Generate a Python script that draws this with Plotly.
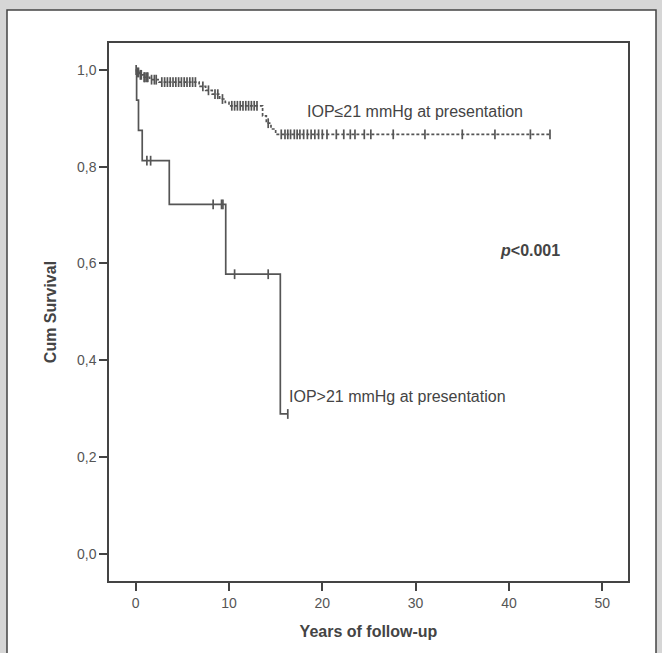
import plotly.graph_objects as go

# ---- data ----
# IOP>21 mmHg group: event times and survival after each event
hi_event_t = [0.0, 0.1, 0.3, 0.7, 3.6, 9.65, 15.5]
hi_event_s = [1.0, 0.9375, 0.875, 0.8125, 0.7222, 0.5778, 0.2889]
hi_censor_t = [1.2, 1.6, 8.3, 9.2, 9.35, 10.6, 14.2, 16.3]
hi_end = 16.3

# IOP<=21 mmHg group
lo_event_t = [0.0, 0.1, 0.4, 0.8, 1.5, 2.5, 6.8, 7.5, 8.2, 9.0, 9.6, 10.0, 13.6, 14.0, 14.5, 15.0]
lo_event_s = [1.0, 0.995, 0.99, 0.985, 0.98, 0.975, 0.966, 0.958, 0.95, 0.94, 0.933, 0.926, 0.905, 0.89, 0.878, 0.867]
lo_censor_t = [0.05, 0.2, 0.3, 0.5, 0.6, 0.9, 1.0, 1.2, 1.3, 1.7, 2.0, 2.2, 2.8, 3.1, 3.4, 3.7, 4.0,
               4.3, 4.6, 4.9, 5.2, 5.5, 5.8, 6.1, 6.4, 7.2, 7.8, 8.5, 8.8, 9.3, 10.3, 10.6, 10.9,
               11.2, 11.5, 11.8, 12.1, 12.4, 12.7, 13.0, 14.2, 15.6, 16.0, 16.3, 16.6, 17.0, 17.3,
               17.6, 18.0, 18.4, 18.8, 19.2, 19.6, 20.0, 20.5, 21.5, 22.3, 23.0, 23.5, 24.5, 25.2,
               27.6, 31.0, 35.0, 38.5, 42.3, 44.4]
lo_end = 44.4

x_ticks = [0, 10, 20, 30, 40, 50]
y_ticks = [0.0, 0.2, 0.4, 0.6, 0.8, 1.0]
y_ticktext = ["0,0", "0,2", "0,4", "0,6", "0,8", "1,0"]


def surv_at(t, et, es):
    s = es[0]
    for a, b in zip(et, es):
        if a <= t:
            s = b
    return s


def step_xy(et, es, end):
    xs = list(et) + [end]
    ys = list(es) + [es[-1]]
    return xs, ys


LC = "#555555"
fig = go.Figure()

for et, es, ct, end, dash in [
    (lo_event_t, lo_event_s, lo_censor_t, lo_end, "3px,2px"),
    (hi_event_t, hi_event_s, hi_censor_t, hi_end, "solid"),
]:
    xs, ys = step_xy(et, es, end)
    fig.add_trace(go.Scatter(x=xs, y=ys, mode="lines", line=dict(color=LC, width=1.7, dash=dash, shape="hv"),
                             hoverinfo="skip", showlegend=False))
    fig.add_trace(go.Scatter(x=ct, y=[surv_at(t, et, es) for t in ct], mode="markers",
                             marker=dict(symbol="line-ns", size=7, line=dict(color=LC, width=1.7)),
                             hoverinfo="skip", showlegend=False))

W, H = 662, 653
L, R, T, B = 109, 34, 43, 72
pw, ph = W - L - R, H - T - B


def px(x):
    return (x - L) / pw


def py(y):
    return (H - B - y) / ph


fig.add_shape(type="rect", xref="paper", yref="paper", x0=px(7), x1=px(656), y0=py(10), y1=py(670),
              fillcolor="white", line=dict(color="#444444", width=1.5), layer="below")

fig.add_annotation(x=18.1, y=0.915, xref="x", yref="y", text="IOP≤21 mmHg at presentation", showarrow=False,
                   xanchor="left", yanchor="middle", font=dict(size=16, color="#444444", family="Liberation Sans, Arial"))
fig.add_annotation(x=16.2, y=0.324, xref="x", yref="y", text="IOP>21 mmHg at presentation", showarrow=False,
                   xanchor="left", yanchor="middle", font=dict(size=16, color="#444444", family="Liberation Sans, Arial"))
fig.add_annotation(x=42.3, y=0.627, xref="x", yref="y", text="<b><i>p</i>&lt;0.001</b>", showarrow=False,
                   xanchor="center", yanchor="middle", font=dict(size=16, color="#444444", family="Liberation Sans, Arial"))

fig.update_layout(
    width=W, height=H,
    margin=dict(l=L, r=R, t=T, b=B),
    paper_bgcolor="#d6d6d6",
    plot_bgcolor="white",
    font=dict(family="Liberation Sans, Arial", color="#555555", size=14),
)
fig.update_xaxes(range=[-2.86, 52.76], tickvals=x_ticks, ticks="outside", ticklen=8, tickwidth=1.5, tickcolor="#444444",
                 showline=True, linecolor="#444444", linewidth=1.5, mirror=True, showgrid=False, zeroline=False,
                 tickfont=dict(size=14, color="#555555"),
                 title=dict(text="<b>Years of follow-up</b>", font=dict(size=16, color="#444444"), standoff=16))
fig.update_yaxes(range=[-0.0564, 1.0558], tickvals=y_ticks, ticktext=y_ticktext, ticks="outside", ticklen=8,
                 tickwidth=1.5, tickcolor="#444444",
                 showline=True, linecolor="#444444", linewidth=1.5, mirror=True, showgrid=False, zeroline=False,
                 tickfont=dict(size=14, color="#555555"),
                 title=dict(text="<b>Cum Survival</b>", font=dict(size=16, color="#444444"), standoff=16))

fig.write_html("out.html")
